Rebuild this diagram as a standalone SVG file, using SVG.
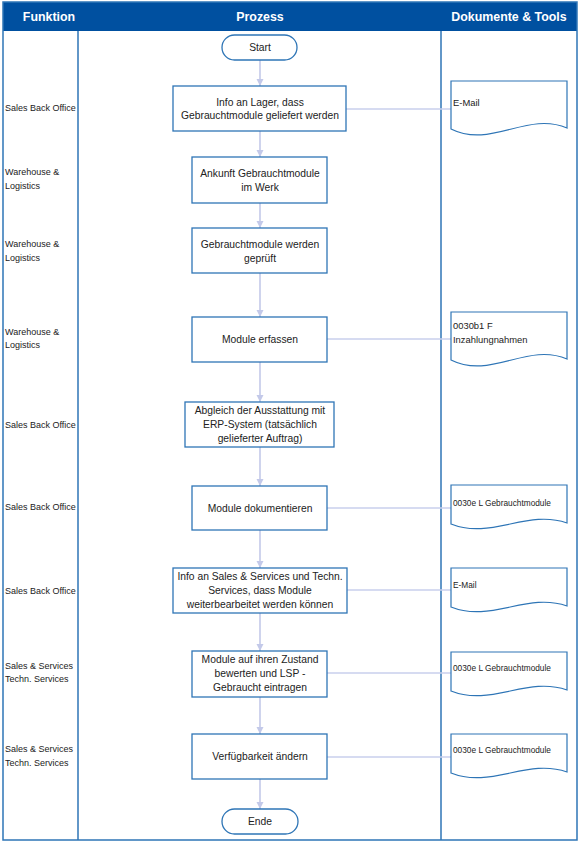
<svg xmlns="http://www.w3.org/2000/svg" width="580" height="844" viewBox="0 0 580 844">
<style>
  .hdr{font-family:"Liberation Sans",Arial,sans-serif;font-weight:bold;font-size:12.4px;fill:#ffffff;dominant-baseline:central}
  .lbl{font-family:"Liberation Sans",Arial,sans-serif;font-size:9px;fill:#222222;dominant-baseline:central}
  .box{fill:#ffffff;stroke:#2E75B6;stroke-width:1.3}
  .term{fill:#ffffff;stroke:#2E75B6;stroke-width:1.3}
  .bt{font-family:"Liberation Sans",Arial,sans-serif;font-size:10.3px;fill:#222222;text-anchor:middle;dominant-baseline:central}
  .doc{fill:#ffffff;stroke:#2E75B6;stroke-width:1.2}
  .dt{font-family:"Liberation Sans",Arial,sans-serif;font-size:9.4px;fill:#222222;dominant-baseline:central}
  .dts{font-family:"Liberation Sans",Arial,sans-serif;font-size:8.3px;fill:#222222;dominant-baseline:central}
  .flow{fill:none;stroke:#C3C9E9;stroke-width:1.6}
  .link{fill:none;stroke:#C9CFEC;stroke-width:1.6}
  .grid{fill:none;stroke:#2E75B6;stroke-width:1.5}
</style>
<defs>
  <marker id="ah" markerUnits="userSpaceOnUse" markerWidth="8" markerHeight="8" refX="7" refY="4" orient="auto">
    <path d="M0,0.5 L7,4 L0,7.5 Z" fill="#C3C9E9"/>
  </marker>
  <path id="docBig" d="M0,0 H116 V47 C76,30 40,68 0,48 Z"/>
  <path id="docSmall" d="M0,0 H116 V38 C76,24 40,55 0,39 Z"/>
</defs>
<rect width="580" height="844" fill="#ffffff"/>
<g id="frame">
  <rect x="3" y="2" width="574" height="29" fill="#0050A0"/>
  <rect class="grid" x="3" y="2" width="574" height="838"/>
  <line class="grid" x1="78" y1="31" x2="78" y2="840"/>
  <line class="grid" x1="441" y1="31" x2="441" y2="840"/>
  <text class="hdr" x="49" y="17" text-anchor="middle">Funktion</text>
  <text class="hdr" x="260" y="17" text-anchor="middle">Prozess</text>
  <text class="hdr" x="509" y="17" text-anchor="middle">Dokumente &amp; Tools</text>
</g>
<g id="lanes">
  <text class="lbl" x="5" y="108">Sales Back Office</text>
  <text class="lbl" x="5" y="172">Warehouse &amp;</text>
  <text class="lbl" x="5" y="186">Logistics</text>
  <text class="lbl" x="5" y="244">Warehouse &amp;</text>
  <text class="lbl" x="5" y="258">Logistics</text>
  <text class="lbl" x="5" y="332">Warehouse &amp;</text>
  <text class="lbl" x="5" y="345">Logistics</text>
  <text class="lbl" x="5" y="425">Sales Back Office</text>
  <text class="lbl" x="5" y="507">Sales Back Office</text>
  <text class="lbl" x="5" y="591">Sales Back Office</text>
  <text class="lbl" x="5" y="666">Sales &amp; Services</text>
  <text class="lbl" x="5" y="679">Techn. Services</text>
  <text class="lbl" x="5" y="749">Sales &amp; Services</text>
  <text class="lbl" x="5" y="763">Techn. Services</text>
</g>
<g id="connectors">
  <line class="flow" x1="260" y1="60" x2="260" y2="86" marker-end="url(#ah)"/>
  <line class="flow" x1="260" y1="131" x2="260" y2="157" marker-end="url(#ah)"/>
  <line class="flow" x1="260" y1="203" x2="260" y2="228" marker-end="url(#ah)"/>
  <line class="flow" x1="260" y1="273" x2="260" y2="317" marker-end="url(#ah)"/>
  <line class="flow" x1="260" y1="362" x2="260" y2="402" marker-end="url(#ah)"/>
  <line class="flow" x1="260" y1="447" x2="260" y2="486" marker-end="url(#ah)"/>
  <line class="flow" x1="260" y1="530" x2="260" y2="568" marker-end="url(#ah)"/>
  <line class="flow" x1="260" y1="613" x2="260" y2="651" marker-end="url(#ah)"/>
  <line class="flow" x1="260" y1="697" x2="260" y2="734" marker-end="url(#ah)"/>
  <line class="flow" x1="260" y1="779" x2="260" y2="809" marker-end="url(#ah)"/>
  <line class="link" x1="346" y1="109" x2="451" y2="109"/>
  <line class="link" x1="327" y1="339" x2="451" y2="339"/>
  <line class="link" x1="327" y1="508" x2="451" y2="508"/>
  <line class="link" x1="347" y1="590" x2="451" y2="590"/>
  <line class="link" x1="327" y1="673" x2="451" y2="673"/>
  <line class="link" x1="327" y1="757" x2="451" y2="757"/>
</g>
<g id="start">
  <rect class="term" x="222" y="35" width="75" height="25" rx="12.5"/>
  <text class="bt" x="260" y="47.5">Start</text>
</g>
<g id="step1">
  <rect class="box" x="173" y="86" width="173" height="45"/>
  <text class="bt" x="260" y="102">Info an Lager, dass</text>
  <text class="bt" x="260" y="115.5">Gebrauchtmodule geliefert werden</text>
</g>
<g id="step2">
  <rect class="box" x="192" y="157" width="135" height="46"/>
  <text class="bt" x="260" y="173">Ankunft Gebrauchtmodule</text>
  <text class="bt" x="260" y="187">im Werk</text>
</g>
<g id="step3">
  <rect class="box" x="192" y="228" width="135" height="45"/>
  <text class="bt" x="260" y="244">Gebrauchtmodule werden</text>
  <text class="bt" x="260" y="258">geprüft</text>
</g>
<g id="step4">
  <rect class="box" x="192" y="317" width="135" height="45"/>
  <text class="bt" x="260" y="339.5">Module erfassen</text>
</g>
<g id="step5">
  <rect class="box" x="185" y="402" width="149" height="45"/>
  <text class="bt" x="260" y="410">Abgleich der Ausstattung mit</text>
  <text class="bt" x="260" y="424">ERP-System (tatsächlich</text>
  <text class="bt" x="260" y="438">gelieferter Auftrag)</text>
</g>
<g id="step6">
  <rect class="box" x="192" y="486" width="135" height="44"/>
  <text class="bt" x="260" y="508">Module dokumentieren</text>
</g>
<g id="step7">
  <rect class="box" x="173" y="568" width="174" height="45"/>
  <text class="bt" x="260" y="576.5">Info an Sales &amp; Services und Techn.</text>
  <text class="bt" x="260" y="590.5">Services, dass Module</text>
  <text class="bt" x="260" y="604.5">weiterbearbeitet werden können</text>
</g>
<g id="step8">
  <rect class="box" x="192" y="651" width="135" height="46"/>
  <text class="bt" x="260" y="659.5">Module auf ihren Zustand</text>
  <text class="bt" x="260" y="673.5">bewerten und LSP -</text>
  <text class="bt" x="260" y="687.5">Gebraucht eintragen</text>
</g>
<g id="step9">
  <rect class="box" x="192" y="734" width="135" height="45"/>
  <text class="bt" x="260" y="756.5">Verfügbarkeit ändern</text>
</g>
<g id="end">
  <rect class="term" x="222" y="809" width="76" height="25" rx="12.5"/>
  <text class="bt" x="260" y="821.5">Ende</text>
</g>
<g id="doc1">
  <use href="#docBig" class="doc" transform="translate(451,81)"/>
  <text class="dt" x="453" y="102">E-Mail</text>
</g>
<g id="doc2">
  <use href="#docBig" class="doc" transform="translate(451,312)"/>
  <text class="dt" x="453" y="325">0030b1 F</text>
  <text class="dt" x="453" y="339">Inzahlungnahmen</text>
</g>
<g id="doc3">
  <use href="#docSmall" class="doc" transform="translate(451,485)"/>
  <text class="dts" x="453" y="503">0030e L Gebrauchtmodule</text>
</g>
<g id="doc4">
  <use href="#docSmall" class="doc" transform="translate(451,568)"/>
  <text class="dts" x="453" y="585">E-Mail</text>
</g>
<g id="doc5">
  <use href="#docSmall" class="doc" transform="translate(451,652)"/>
  <text class="dts" x="453" y="668">0030e L Gebrauchtmodule</text>
</g>
<g id="doc6">
  <use href="#docSmall" class="doc" transform="translate(451,734)"/>
  <text class="dts" x="453" y="750">0030e L Gebrauchtmodule</text>
</g>
</svg>
